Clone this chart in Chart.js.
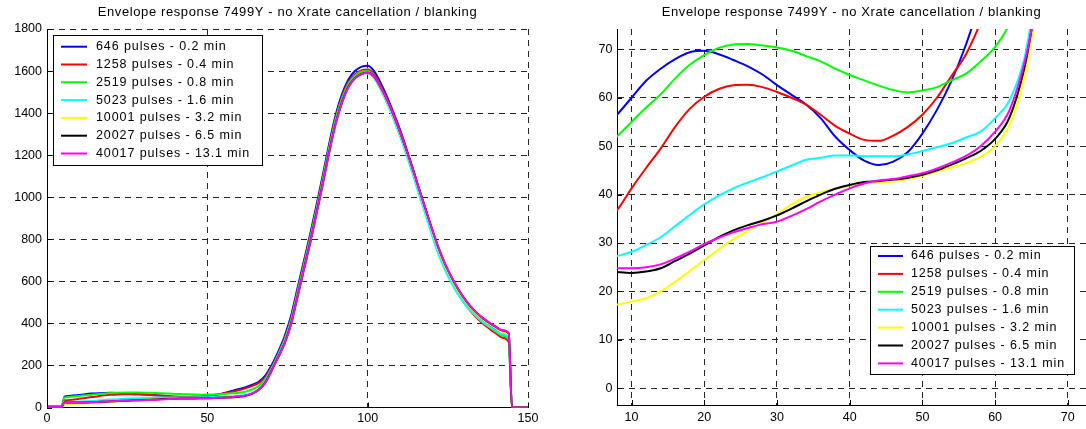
<!DOCTYPE html>
<html>
<head>
<meta charset="utf-8">
<title>Envelope response 7499Y</title>
<script src="https://cdn.jsdelivr.net/npm/chart.js@4.4.0/dist/chart.umd.min.js"></script>
<style>
  html, body { margin: 0; padding: 0; background: #fff; }
  #wrap { position: relative; width: 1086px; height: 429px; overflow: hidden; }
  .box { position: absolute; top: 0; height: 429px; width: 543px; }
  #boxL { left: 0; }
  #boxR { left: 543px; }
</style>
</head>
<body>
<div id="wrap">
  <div class="box" id="boxL"><canvas id="envFull"></canvas></div>
  <div class="box" id="boxR"><canvas id="envZoom"></canvas></div>
</div>
<script>
// sample positions (range cell index), shared by every series
const sampleX = [0, 4.5, 5.5, 6,
  8, 10, 12, 14, 16, 18, 20, 22, 24, 26, 28, 30,
  32, 34, 36, 38, 40, 42, 44, 46, 48, 50, 52, 54,
  56, 58, 60, 62, 64, 65,
  66, 68, 70, 72, 74, 76, 78, 80, 82, 84, 86, 88,
  90, 92, 94, 96, 98, 100, 102, 104, 106, 108, 110, 112,
  114, 116, 118, 120, 122, 124, 126, 128, 130, 132, 134, 136,
  138, 140, 142, 144, 145, 150];

// envelope values, one array per run
const pulses646 = [3, 3, 52, 53.5,
  56.5, 60, 63.5, 66, 68, 69.4, 69.7, 69, 67.8, 66.5, 64.8, 62.6,
  60.6, 58.6, 55.8, 52, 49.2, 47, 46.1, 46.8, 48.8, 52.6, 57.5, 63.5,
  71, 80, 88, 97, 108, 114,
  122, 150, 200, 262, 335, 430, 560, 690, 820, 960, 1105, 1255,
  1390, 1490, 1560, 1600, 1620, 1625, 1600, 1545, 1480, 1405, 1325, 1235,
  1140, 1040, 945, 848, 755, 678, 615, 555, 508, 470, 438, 410,
  388, 368, 345, 318, 0, 0];
const pulses1258 = [3, 3, 33, 34,
  36.8, 41.3, 45.5, 49.5, 54, 57.7, 60.2, 61.8, 62.6, 62.7, 62.2, 61.2,
  60, 58.6, 56.5, 54.2, 52.6, 51.3, 51.1, 52.2, 54, 56.5, 60, 64.5,
  69, 75.5, 83, 92, 103, 109,
  116, 142, 192, 254, 325, 418, 548, 678, 808, 948, 1093, 1243,
  1378, 1478, 1548, 1585, 1603, 1607, 1585, 1533, 1470, 1397, 1316, 1228,
  1135, 1035, 940, 843, 750, 672, 607, 548, 500, 460, 427, 398,
  374, 352, 332, 310, 0, 0];
const pulses2519 = [3, 3, 48, 49,
  52, 55, 58, 60.7, 64, 66.8, 68.8, 70.3, 71, 71.1, 70.8, 70.4,
  69.7, 68.6, 67.5, 66, 64.7, 63.6, 62.5, 61.6, 61.1, 61.5, 62.2, 63.6,
  65, 67.5, 70.5, 75.5, 86, 93,
  102, 134, 186, 248, 318, 410, 540, 670, 800, 940, 1085, 1235,
  1370, 1470, 1540, 1578, 1597, 1600, 1578, 1527, 1465, 1392, 1312, 1224,
  1132, 1033, 938, 842, 750, 673, 609, 551, 504, 465, 433, 405,
  382, 361, 342, 322, 0, 0];
const pulses5023 = [3, 3, 26, 26.5,
  27.3, 28.2, 29.6, 31.2, 33.5, 35.8, 38, 39.8, 41.3, 42.5, 43.6, 44.8,
  46, 47.2, 47.6, 48.1, 48.1, 47.9, 47.9, 47.9, 48.3, 49, 49.8, 50.6,
  51.8, 53, 55.8, 59.5, 68, 76,
  86, 122, 180, 242, 310, 400, 528, 658, 788, 928, 1073, 1222,
  1355, 1455, 1527, 1567, 1585, 1588, 1565, 1512, 1448, 1374, 1293, 1205,
  1112, 1013, 918, 822, 732, 657, 596, 542, 498, 461, 431, 405,
  384, 365, 348, 332, 0, 0];
const pulses10001 = [3, 3, 16.5, 16.8,
  17.3, 17.9, 18.6, 20, 22, 24.2, 26.5, 28.7, 30.8, 32.5, 34.2, 36,
  38, 39.5, 40.5, 41.2, 41.9, 42.3, 42.5, 42.7, 43.2, 43.9, 44.8, 45.6,
  46.5, 47.8, 50, 54.5, 64, 72,
  82, 114, 170, 232, 298, 388, 515, 645, 775, 915, 1060, 1210,
  1345, 1448, 1522, 1565, 1585, 1590, 1570, 1520, 1458, 1386, 1306, 1220,
  1130, 1032, 938, 843, 753, 677, 615, 560, 514, 476, 444, 418,
  396, 377, 360, 345, 0, 0];
const pulses20027 = [3, 3, 24.5, 24.3,
  24, 23.8, 24.1, 24.8, 26.3, 27.8, 29.5, 31.2, 32.6, 33.7, 34.6, 35.7,
  37.1, 38.6, 40, 41.2, 42, 42.6, 42.8, 43.1, 43.5, 44.1, 45, 46.2,
  47.5, 49, 51.5, 56, 66, 74,
  84, 117, 175, 237, 302, 392, 520, 650, 780, 920, 1065, 1215,
  1350, 1452, 1525, 1566, 1586, 1592, 1574, 1525, 1464, 1393, 1313, 1227,
  1137, 1040, 946, 852, 763, 687, 624, 568, 521, 482, 450, 424,
  402, 383, 366, 352, 0, 0];
const pulses40017 = [3, 3, 24.8, 24.8,
  24.8, 24.8, 25, 25.6, 26.8, 28.2, 29.8, 31.1, 32.2, 33.1, 33.9, 34.4,
  35.6, 37, 38.6, 40, 41.3, 42.3, 42.9, 43.2, 43.8, 44.4, 45.4, 46.6,
  48, 50, 53, 57.5, 67, 74,
  84, 116, 174, 236, 300, 390, 518, 648, 778, 918, 1062, 1212,
  1348, 1450, 1523, 1565, 1586, 1592, 1575, 1526, 1465, 1394, 1314, 1228,
  1138, 1040, 946, 852, 763, 688, 625, 569, 522, 483, 451, 425,
  403, 384, 367, 353, 0, 0];

const seriesLabels = ['646 pulses - 0.2 min', '1258 pulses - 0.4 min', '2519 pulses - 0.8 min',
  '5023 pulses - 1.6 min', '10001 pulses - 3.2 min', '20027 pulses - 6.5 min', '40017 pulses - 13.1 min'];
const seriesColors = ['#0000ff', '#ff0000', '#00ff00', '#00ffff', '#ffff00', '#000000', '#ff00ff'];
const seriesValues = [pulses646, pulses1258, pulses2519, pulses5023, pulses10001, pulses20027, pulses40017];

const titleText = 'Envelope response 7499Y - no Xrate cancellation / blanking';
const fontFamily = '"Liberation Sans", Arial, Helvetica, sans-serif';

function buildDatasets() {
    return seriesValues.map((vals, i) => ({
        label: seriesLabels[i],
        data: vals.map((v, j) => ({ x: sampleX[j], y: v })),
        borderColor: seriesColors[i],
        backgroundColor: seriesColors[i],
        borderWidth: 2,
        pointRadius: 0,
        fill: false,
        cubicInterpolationMode: 'monotone',
        order: seriesValues.length - 1 - i // last run drawn on top, like matlab
    }));
}

// title, inward ticks and the boxed legend, matlab style
const matlabFrame = {
    id: 'matlabFrame',
    afterDraw(chart, args, opts) {
        const ctx = chart.ctx;
        const a = chart.chartArea;
        ctx.save();

        // small inward tick marks
        ctx.strokeStyle = '#000';
        ctx.lineWidth = 1;
        ctx.setLineDash([]);
        ctx.beginPath();
        chart.scales.x.ticks.forEach(t => {
            const px = Math.round(chart.scales.x.getPixelForValue(t.value)) + 0.5;
            ctx.moveTo(px, a.bottom);
            ctx.lineTo(px, a.bottom - 5);
        });
        chart.scales.y.ticks.forEach(t => {
            const py = Math.round(chart.scales.y.getPixelForValue(t.value)) + 0.5;
            ctx.moveTo(a.left, py);
            ctx.lineTo(a.left + 5, py);
        });
        ctx.stroke();

        // title
        ctx.fillStyle = '#000';
        ctx.font = '13px ' + fontFamily;
        ctx.letterSpacing = '0.6px';
        ctx.textAlign = 'center';
        ctx.textBaseline = 'alphabetic';
        ctx.fillText(titleText, (a.left + a.right) / 2, 16);

        // legend
        const lg = opts.legend;
        ctx.fillStyle = '#fff';
        ctx.fillRect(lg.x, lg.y, lg.w, lg.h);
        ctx.strokeStyle = '#000';
        ctx.lineWidth = 1;
        ctx.strokeRect(Math.round(lg.x) + 0.5, Math.round(lg.y) + 0.5, Math.round(lg.w), Math.round(lg.h));
        ctx.font = '12.5px ' + fontFamily;
        ctx.letterSpacing = '0.9px';
        ctx.textAlign = 'left';
        ctx.textBaseline = 'middle';
        seriesLabels.forEach((label, i) => {
            const ry = lg.row0 + lg.step * i;
            ctx.strokeStyle = seriesColors[i];
            ctx.lineWidth = 2;
            ctx.beginPath();
            ctx.moveTo(lg.line0, ry);
            ctx.lineTo(lg.line1, ry);
            ctx.stroke();
            ctx.fillStyle = '#000';
            ctx.fillText(label, lg.textX, ry);
        });
        ctx.restore();
    }
};

function makeOptions(cfg) {
    const tickFont = { family: fontFamily, size: 12.5 };
    const plain = v => String(v); // no thousands separator
    return {
        responsive: true,
        maintainAspectRatio: false,
        animation: false,
        events: [],
        layout: { padding: { top: cfg.padTop, right: cfg.padRight, left: 0, bottom: 0 } },
        scales: {
            x: {
                type: 'linear',
                min: cfg.xmin,
                max: cfg.xmax,
                afterFit: s => { s.height = cfg.xAxisH; },
                ticks: { stepSize: cfg.xstep, includeBounds: false, padding: cfg.xPad, color: '#000', font: tickFont, maxRotation: 0, autoSkip: false, callback: plain },
                grid: { color: '#262626', lineWidth: 1, drawTicks: false },
                border: { display: true, color: '#000', width: 1, dash: [6, 5] }
            },
            y: {
                type: 'linear',
                min: cfg.ymin,
                max: cfg.ymax,
                afterFit: s => { s.width = cfg.yAxisW; },
                ticks: { stepSize: cfg.ystep, includeBounds: false, padding: cfg.yPad, color: '#000', font: tickFont, autoSkip: false, callback: plain },
                grid: { color: '#262626', lineWidth: 1, drawTicks: false },
                border: { display: true, color: '#000', width: 1, dash: [6, 5] }
            }
        },
        plugins: {
            legend: { display: false },
            tooltip: { enabled: false },
            title: { display: false },
            matlabFrame: { legend: cfg.legend }
        }
    };
}

// full range view
window.envFullChart = new Chart(document.getElementById('envFull'), {
    type: 'line',
    data: { datasets: buildDatasets() },
    options: makeOptions({
        xmin: 0, xmax: 150, xstep: 50,
        ymin: 0, ymax: 1800, ystep: 200,
        yAxisW: 47, xAxisH: 21.5, padTop: 29, padRight: 15,
        xPad: 4, yPad: 5,
        legend: { x: 53, y: 35, w: 209, h: 130, line0: 61, line1: 87, textX: 96, row0: 46.7, step: 17.8 }
    }),
    plugins: [matlabFrame]
});

// zoom on the low part of the envelope
window.envZoomChart = new Chart(document.getElementById('envZoom'), {
    type: 'line',
    data: { datasets: buildDatasets() },
    options: makeOptions({
        xmin: 8, xmax: 72.5, xstep: 10,
        ymin: -3.45, ymax: 74.2, ystep: 10,
        yAxisW: 74, xAxisH: 24, padTop: 29, padRight: 0,
        xPad: 5.5, yPad: 4.5,
        legend: { x: 327, y: 246, w: 204, h: 128, line0: 335, line1: 360, textX: 368, row0: 256, step: 17.9 }
    }),
    plugins: [matlabFrame]
});
</script>
</body>
</html>
